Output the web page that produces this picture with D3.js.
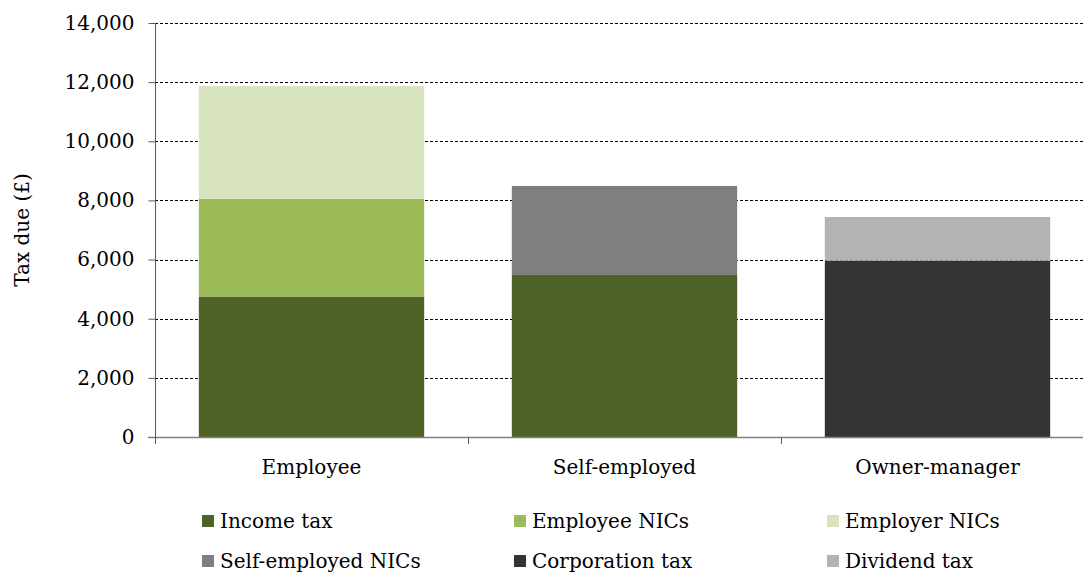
<!DOCTYPE html>
<html>
<head>
<meta charset="utf-8">
<script src="https://cdn.jsdelivr.net/npm/d3@7"></script>
<style>
  body { margin: 0; background: #fff; }
  text { font-family: "DejaVu Serif", serif; fill: #000; }
</style>
</head>
<body>
<div id="chart"></div>
<script>
// categories and series
var categories = ["Employee", "Self-employed", "Owner-manager"];
var seriesNames = ["Income tax", "Employee NICs", "Employer NICs", "Self-employed NICs", "Corporation tax", "Dividend tax"];
var incomeTax = [4750, 5480, 0];
var employeeNICs = [3300, 0, 0];
var employerNICs = [3820, 0, 0];
var selfEmployedNICs = [0, 3010, 0];
var corporationTax = [0, 0, 5960];
var dividendTax = [0, 0, 1480];
var yTicks = [0, 2000, 4000, 6000, 8000, 10000, 12000, 14000];

var colors = ["#4F6228", "#9BBB59", "#D7E4BD", "#7F7F7F", "#333333", "#B3B3B3"];

var W = 1084, H = 575;
var plotLeft = 155, plotTop = 23, plotBottom = 437, plotRight = 1094, axisEnd = 1083;

// build rows for d3.stack
var seriesValues = [incomeTax, employeeNICs, employerNICs, selfEmployedNICs, corporationTax, dividendTax];
var rows = categories.map(function(c, i) {
    var r = { cat: c };
    seriesNames.forEach(function(s, j) { r[s] = seriesValues[j][i]; });
    return r;
});
var stacked = d3.stack().keys(seriesNames)(rows);

var svg = d3.select("#chart").append("svg")
    .attr("width", W)
    .attr("height", H);

var x = d3.scaleBand()
    .domain(categories)
    .range([plotLeft, plotRight])
    .paddingInner(0.28)
    .paddingOuter(0.14);

var y = d3.scaleLinear()
    .domain([0, 14000])
    .range([plotBottom, plotTop]);

var color = d3.scaleOrdinal().domain(seriesNames).range(colors);

// gridlines
svg.append("g")
    .selectAll("line")
    .data(yTicks.filter(function(d) { return d > 0; }))
    .enter()
    .append("line")
    .attr("x1", plotLeft)
    .attr("x2", axisEnd)
    .attr("y1", function(d) { return Math.round(y(d)) + 0.5; })
    .attr("y2", function(d) { return Math.round(y(d)) + 0.5; })
    .attr("stroke", "#000")
    .attr("stroke-width", 1)
    .attr("stroke-dasharray", "3,2");

// bars
svg.append("g")
    .selectAll("g")
    .data(stacked)
    .enter()
    .append("g")
    .attr("fill", function(d) { return color(d.key); })
    .selectAll("rect")
    .data(function(d) { return d; })
    .enter()
    .append("rect")
    .attr("x", function(d) { return x(d.data.cat); })
    .attr("width", x.bandwidth())
    .attr("y", function(d) { return y(d[1]); })
    .attr("height", function(d) { return y(d[0]) - y(d[1]); });

// y axis
var yAxis = svg.append("g")
    .attr("transform", "translate(" + (plotLeft + 0.5) + ",0)")
    .call(d3.axisLeft(y).tickValues(yTicks).tickSize(7).tickPadding(14).tickFormat(d3.format(",")));
yAxis.select(".domain").attr("stroke", "#595959").attr("d", "M0," + plotTop + "V" + (plotBottom + 7));
yAxis.selectAll(".tick line").attr("stroke", "#595959");
yAxis.selectAll("text")
    .style("font-family", "DejaVu Serif, serif")
    .style("font-size", "20px")
    .attr("fill", "#000");

// x axis line and category ticks at band boundaries
svg.append("line")
    .attr("x1", plotLeft - 7)
    .attr("x2", axisEnd)
    .attr("y1", plotBottom + 0.5)
    .attr("y2", plotBottom + 0.5)
    .attr("stroke", "#7F7F7F")
    .attr("stroke-width", 1.5);

svg.append("g")
    .selectAll("line")
    .data(categories)
    .enter()
    .append("line")
    .attr("x1", function(d) { return Math.round(x(d) - x.step() * x.paddingInner() / 2) + 0.5; })
    .attr("x2", function(d) { return Math.round(x(d) - x.step() * x.paddingInner() / 2) + 0.5; })
    .attr("y1", plotBottom)
    .attr("y2", plotBottom + 7)
    .attr("stroke", "#595959");

svg.append("g")
    .selectAll("text")
    .data(categories)
    .enter()
    .append("text")
    .attr("x", function(d) { return x(d) + x.bandwidth() / 2; })
    .attr("y", 474)
    .attr("text-anchor", "middle")
    .style("font-size", "20px")
    .text(function(d) { return d; });

// y axis label
svg.append("text")
    .attr("transform", "translate(29,230) rotate(-90)")
    .attr("text-anchor", "middle")
    .style("font-size", "20px")
    .text("Tax due (£)");

// legend
var legendCols = [202, 514, 827];
var legendRows = [521, 561];
var legend = svg.append("g")
    .selectAll("g")
    .data(seriesNames)
    .enter()
    .append("g")
    .attr("transform", function(d, i) {
        return "translate(" + legendCols[i % 3] + "," + legendRows[Math.floor(i / 3)] + ")";
    });

legend.append("rect")
    .attr("x", 0)
    .attr("y", -6)
    .attr("width", 12)
    .attr("height", 12)
    .attr("fill", function(d) { return color(d); });

legend.append("text")
    .attr("x", 18)
    .attr("y", 7)
    .style("font-size", "20px")
    .text(function(d) { return d; });
</script>
</body>
</html>
